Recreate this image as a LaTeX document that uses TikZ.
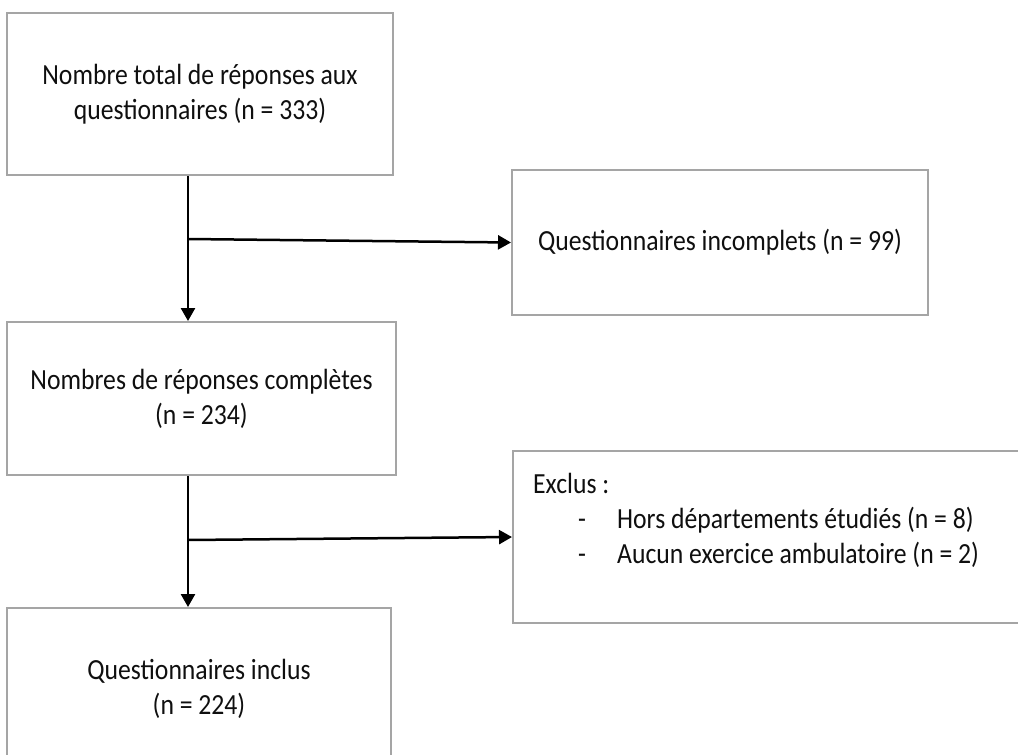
\documentclass[tikz,border=0pt]{standalone}
\usepackage{fontspec}
\setmainfont{Carlito}[FakeStretch=0.88]
\usepackage{tikz}
\usetikzlibrary{arrows.meta}
\definecolor{boxgray}{RGB}{165,165,165}
\definecolor{textdark}{RGB}{15,15,15}

\begin{document}
\begin{tikzpicture}[
  x=1pt, y=-1pt,
  font=\fontsize{29.2}{35}\selectfont, >={Triangle[length=13pt,width=14pt]},
  box/.style={draw=boxgray, line width=2pt, text=textdark, align=center, inner sep=0pt},
  listtext/.style={text=textdark, align=left, inner sep=0pt},
  arr/.style={->, line width=2.5pt, color=black},
]
\useasboundingbox (0,0) rectangle (1018,755);

\node[box, minimum width=386pt, minimum height=162pt] (total) at (200,94)
  {Nombre total de réponses aux\\questionnaires (n = 333)};
\node[box, minimum width=416pt, minimum height=145pt] (incomplets) at (720,242.5)
  {Questionnaires incomplets (n = 99)};
\node[box, minimum width=389pt, minimum height=153pt] (completes) at (201.5,398.5)
  {Nombres de réponses complètes\\(n = 234)};
\node[box, minimum width=520pt, minimum height=172pt] (exclus) at (773,537) {};
\node[listtext, anchor=base west] (exclustxt) at (533,563)
  {Exclus :\\\makebox[84pt][l]{\hspace*{45pt}-}Hors départements étudiés (n = 8)\\\makebox[84pt][l]{\hspace*{45pt}-}Aucun exercice ambulatoire (n = 2)};
\node[box, minimum width=384pt, minimum height=162pt] (inclus) at (199,689)
  {Questionnaires inclus\\(n = 224)};

\coordinate (split1) at (188,239);
\coordinate (split2) at (188,540);

\draw[arr] (total.south -| split1) -- (completes.north -| split1);
\draw[arr] (split1) -- (incomplets.west);
\draw[arr] (completes.south -| split2) -- (inclus.north -| split2);
\draw[arr] (split2) -- (exclus.west);
\end{tikzpicture}
\end{document}
